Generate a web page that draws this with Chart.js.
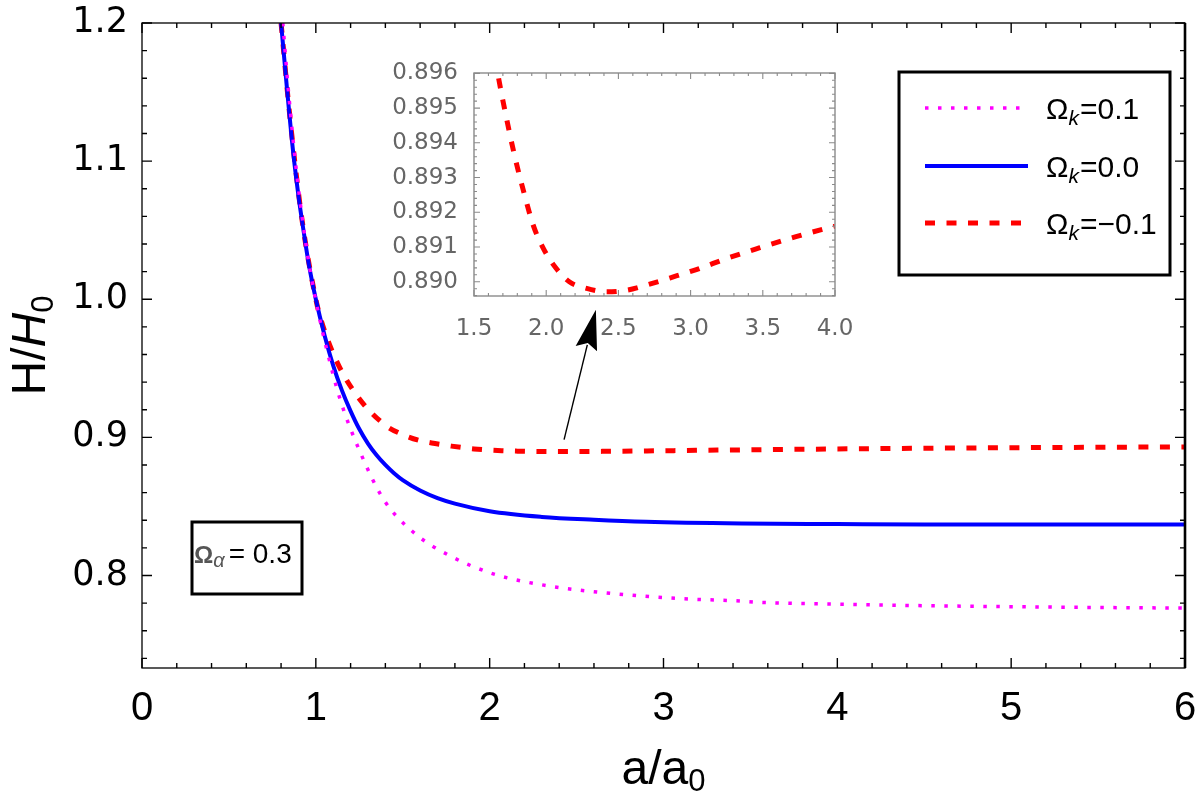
<!DOCTYPE html>
<html><head><meta charset="utf-8">
<script src="https://cdn.jsdelivr.net/npm/chart.js@4/dist/chart.umd.min.js"></script>
<style>
html,body{margin:0;padding:0;background:#fff;}
#wrap{position:relative;width:1195px;height:797px;overflow:hidden;}
canvas{position:absolute;left:0;top:0;}
</style>
</head><body>
<div id="wrap"><canvas id="main" width="1195" height="797"></canvas><canvas id="inset" width="1195" height="797"></canvas></div>
<script>
// ---- data ----
const xMag  = [0.81,0.843,0.891,0.95,1.0,1.064,1.141,1.256,1.39,1.564,1.775,2.025,2.33,2.72,3.10,3.41,3.56,4.0,4.4,5.0,5.5,6.0];
const yMag  = [1.200,1.150,1.090,1.034,0.999,0.963,0.927,0.889,0.855,0.831,0.814,0.801,0.7926,0.7868,0.7832,0.7817,0.7805,0.7792,0.7783,0.7774,0.7768,0.7764];
const xBlue = [0.80,0.83,0.87,0.90,0.93,0.96,1.0,1.05,1.1,1.15,1.2,1.25,1.3,1.35,1.4,1.45,1.5,1.6,1.7,1.8,2.0,2.3,2.6,2.9,3.45,4.0,4.5,5.0,6.0];
const yBlue = [1.200,1.158,1.106,1.075,1.049,1.025,1.000,0.974,0.952,0.934,0.919,0.906,0.8955,0.887,0.880,0.874,0.869,0.8615,0.856,0.852,0.8465,0.8424,0.8403,0.8388,0.8376,0.8372,0.8369,0.8369,0.8369];
const xRed  = [0.80,0.85,0.92,1.0,1.03,1.12,1.25,1.4,1.5,1.6,1.666,1.72,1.78,1.85,1.91,1.98,2.07,2.16,2.28,2.42,2.56,2.69,2.88,3.06,3.25,3.48,3.73,4.0,4.5,5.0,5.5,6.0];
const yRed  = [1.200,1.133,1.058,1.000,0.985,0.955,0.928,0.9088,0.9020,0.8976,0.89596,0.89481,0.89365,0.8925,0.89163,0.89096,0.89038,0.8900,0.88981,0.88971,0.88976,0.8899,0.89014,0.89038,0.89067,0.89098,0.89130,0.89160,0.8921,0.8925,0.8928,0.8931];
const seriesLabels = ['0.1','0.0','\u22120.1'];
const xTicksMain  = [0,1,2,3,4,5,6];
const yTicksMain  = [0.8,0.9,1.0,1.1,1.2];
const xTicksInset = [1.5,2.0,2.5,3.0,3.5,4.0];
const yTicksInset = [0.890,0.891,0.892,0.893,0.894,0.895,0.896];
const alphaLabel = '0.3';

function pts(xs, ys){ return xs.map((x,i)=>({x:x, y:ys[i]})); }

const styles = [
  {borderColor:'#ff00ff', borderWidth:3.5, borderDash:[3.5,9.5], borderCapStyle:'butt'},
  {borderColor:'#0000ff', borderWidth:4, borderDash:[]},
  {borderColor:'#ff0000', borderWidth:5, borderDash:[10,11.5], borderCapStyle:'butt'}
];

function ds(xs, ys, st){
  return Object.assign({data:pts(xs,ys), pointRadius:0, fill:false, cubicInterpolationMode:'monotone'}, st);
}

function drawRich(ctx, parts, x, y, align){
  let w = 0;
  parts.forEach(p=>{ ctx.font = p.font; p.w = ctx.measureText(p.t).width; w += p.w + (p.gap||0); });
  let cx = align==='center' ? x - w/2 : x;
  parts.forEach(p=>{
    ctx.font = p.font; ctx.fillStyle = p.color || '#000';
    ctx.textBaseline = 'alphabetic'; ctx.textAlign = 'left';
    ctx.fillText(p.t, cx, y + (p.dy||0));
    cx += p.w + (p.gap||0);
  });
}

function frameTicks(chart, o){
  const ctx = chart.ctx, a = chart.chartArea, xs = chart.scales.x, ys = chart.scales.y;
  ctx.save();
  ctx.strokeStyle = o.color; ctx.lineWidth = o.lw;
  ctx.strokeRect(a.left, a.top, a.right-a.left, a.bottom-a.top);
  if (o.rightLw){ ctx.lineWidth=o.rightLw; ctx.beginPath(); ctx.moveTo(a.right,a.top); ctx.lineTo(a.right,a.bottom); ctx.stroke(); ctx.lineWidth=o.lw; }
  ctx.lineWidth = o.tickLw;
  const isMaj = (v, arr)=>arr.some(t=>Math.abs(t-v)<1e-7);
  let s = Math.ceil((xs.min-1e-9)/o.xMinor);
  for (let i=s; i*o.xMinor<=xs.max+1e-9; i++){
    const v = i*o.xMinor, p = xs.getPixelForValue(v);
    const len = isMaj(v,o.xMajor)?o.major:o.minor;
    ctx.beginPath(); ctx.moveTo(p,a.bottom); ctx.lineTo(p,a.bottom-len);
    ctx.moveTo(p,a.top); ctx.lineTo(p,a.top+len); ctx.stroke();
  }
  s = Math.ceil((ys.min-1e-9)/o.yMinor);
  for (let i=s; i*o.yMinor<=ys.max+1e-9; i++){
    const v = i*o.yMinor, p = ys.getPixelForValue(v);
    const len = isMaj(v,o.yMajor)?o.major:o.minor;
    ctx.beginPath(); ctx.moveTo(a.left,p); ctx.lineTo(a.left+len,p);
    ctx.moveTo(a.right,p); ctx.lineTo(a.right-len,p); ctx.stroke();
  }
  ctx.restore();
}

const mainPlugin = {
  id:'mainDeco',
  afterDraw(chart){
    const ctx = chart.ctx, a = chart.chartArea, xs = chart.scales.x, ys = chart.scales.y;
    frameTicks(chart, {color:'#000', lw:1.3, rightLw:2.6, tickLw:1.4, major:10, minor:5,
      xMinor:0.2, yMinor:0.02, xMajor:xTicksMain, yMajor:yTicksMain});
    // axis titles
    ctx.save();
    drawRich(ctx, [
      {t:'a/a', font:'48px "Liberation Sans"'},
      {t:'0', font:'31px "Liberation Sans"', dy:7}
    ], (a.left+a.right)/2, 784, 'center');
    ctx.translate(45, (a.top+a.bottom)/2);
    ctx.rotate(-Math.PI/2);
    drawRich(ctx, [
      {t:'H/', font:'48px "Liberation Sans"'},
      {t:'H', font:'italic 48px "Liberation Sans"'},
      {t:'0', font:'31px "Liberation Sans"', dy:8}
    ], 0, 0, 'center');
    ctx.restore();
    // legend
    ctx.save();
    ctx.fillStyle='#fff'; ctx.fillRect(899,72,271,203);
    ctx.strokeStyle='#000'; ctx.lineWidth=3; ctx.strokeRect(899,72,271,203);
    const rows=[108,166,223];
    chart.data.datasets.forEach((d,i)=>{
      ctx.strokeStyle=d.borderColor; ctx.lineWidth=d.borderWidth; ctx.setLineDash(d.borderDash||[]); ctx.lineCap='butt';
      ctx.beginPath(); ctx.moveTo(925,rows[i]); ctx.lineTo(1028,rows[i]); ctx.stroke();
      ctx.setLineDash([]);
      drawRich(ctx, [
        {t:'\u03A9', font:'30px "Liberation Sans"'},
        {t:'k', font:'italic 21px "Liberation Sans"', dy:6, gap:1},
        {t:'='+seriesLabels[i], font:'30px "Liberation Sans"'}
      ], 1046, rows[i]+11, 'left');
    });
    ctx.restore();
    // Omega_alpha box
    ctx.save();
    ctx.strokeStyle='#000'; ctx.lineWidth=3; ctx.strokeRect(192,522,110,72);
    drawRich(ctx, [
      {t:'\u03A9', font:'bold 24px "Liberation Sans"', color:'#555'},
      {t:'\u03B1', font:'italic 20px "Liberation Sans"', color:'#555', dy:4, gap:4},
      {t:'= '+alphaLabel, font:'28px "Liberation Sans"', color:'#000'}
    ], 194, 563, 'left');
    ctx.restore();
    // arrow (annotation in data coordinates)
    const x0 = xs.getPixelForValue(2.428), y0 = ys.getPixelForValue(0.8983);
    const x1 = xs.getPixelForValue(2.611), y1 = ys.getPixelForValue(0.9923);
    const dx = x1-x0, dy = y1-y0, L = Math.hypot(dx,dy), ux = dx/L, uy = dy/L;
    const hl = 40, hw = 11;
    const bx = x1-ux*hl, by = y1-uy*hl;
    ctx.save();
    ctx.strokeStyle='#000'; ctx.lineWidth=1.4;
    ctx.beginPath(); ctx.moveTo(x0,y0); ctx.lineTo(bx+ux*4,by+uy*4); ctx.stroke();
    ctx.fillStyle='#000'; ctx.beginPath();
    ctx.moveTo(x1,y1); ctx.lineTo(bx-uy*hw, by+ux*hw); ctx.lineTo(bx+ux*6, by+uy*6); ctx.lineTo(bx+uy*hw, by-ux*hw); ctx.closePath(); ctx.fill();
    ctx.restore();
  }
};

function fixX(h){ return s=>{ s.height = h; s.paddingLeft = 0; s.paddingRight = 0; }; }
function fixY(w){ return s=>{ s.width = w; s.paddingTop = 0; s.paddingBottom = 0; }; }

new Chart(document.getElementById('main'), {
  type:'line',
  data:{datasets:[ds(xMag,yMag,styles[0]), ds(xBlue,yBlue,styles[1]), ds(xRed,yRed,styles[2])]},
  options:{
    responsive:false, animation:false, devicePixelRatio:1,
    layout:{padding:{left:0,right:10,top:23,bottom:0}},
    plugins:{legend:{display:false}, tooltip:{enabled:false}},
    scales:{
      x:{type:'linear', min:0, max:6,
         afterBuildTicks:s=>{s.ticks = xTicksMain.map(v=>({value:v}));},
         afterFit:fixX(129),
         grid:{display:false}, border:{display:false},
         ticks:{color:'#000', padding:9, maxRotation:0, font:{family:'Liberation Sans', size:40}, callback:v=>String(v)}},
      y:{type:'linear', min:0.733, max:1.2,
         afterBuildTicks:s=>{s.ticks = yTicksMain.map(v=>({value:v}));},
         afterFit:fixY(142),
         grid:{display:false}, border:{display:false},
         ticks:{color:'#000', padding:6, font:{family:'DejaVu Sans', size:35}, callback:v=>v.toFixed(1)}}
    }
  },
  plugins:[mainPlugin]
});

const insetPlugin = {
  id:'insetDeco',
  beforeDatasetsDraw(chart){
    const a = chart.chartArea, ctx = chart.ctx;
    ctx.save(); ctx.fillStyle='#fff'; ctx.fillRect(a.left,a.top,a.right-a.left,a.bottom-a.top); ctx.restore();
  },
  afterDraw(chart){
    frameTicks(chart, {color:'#8a8a8a', lw:1.4, tickLw:1.1, major:6, minor:3,
      xMinor:0.1, yMinor:0.0002, xMajor:xTicksInset, yMajor:yTicksInset});
  }
};

new Chart(document.getElementById('inset'), {
  type:'line',
  data:{datasets:[ds(xRed,yRed,styles[2])]},
  options:{
    responsive:false, animation:false, devicePixelRatio:1,
    layout:{padding:{left:0,right:360,top:73,bottom:0}},
    plugins:{legend:{display:false}, tooltip:{enabled:false}},
    scales:{
      x:{type:'linear', min:1.5, max:4.0,
         afterBuildTicks:s=>{s.ticks = xTicksInset.map(v=>({value:v}));},
         afterFit:fixX(501),
         grid:{display:false}, border:{display:false},
         ticks:{color:'#666', padding:11, maxRotation:0, font:{family:'DejaVu Sans', size:23}, callback:v=>v.toFixed(1)}},
      y:{type:'linear', min:0.88959, max:0.89601,
         afterBuildTicks:s=>{s.ticks = yTicksInset.map(v=>({value:v}));},
         afterFit:fixY(474),
         grid:{display:false}, border:{display:false},
         ticks:{color:'#666', padding:8, font:{family:'DejaVu Sans', size:23}, callback:v=>v.toFixed(3)}}
    }
  },
  plugins:[insetPlugin]
});
</script>
</body></html>
